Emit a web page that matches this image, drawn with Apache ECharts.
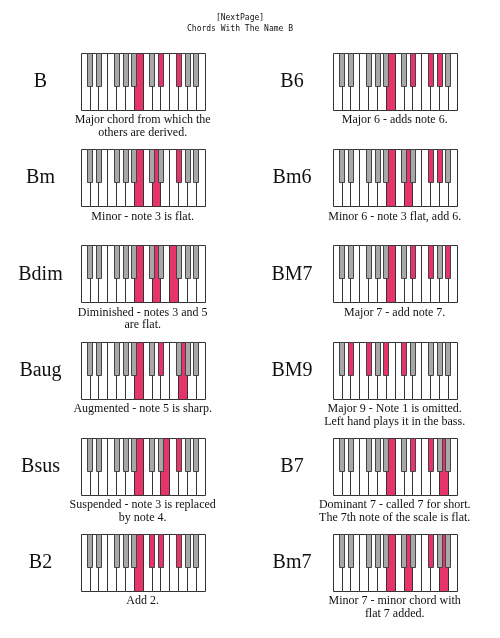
<!DOCTYPE html>
<html><head><meta charset="utf-8">
<script src="https://cdn.jsdelivr.net/npm/echarts@6/dist/echarts.min.js"></script>
<style>html,body{margin:0;padding:0;background:#fff}#c{width:500px;height:638px}</style>
</head><body><div id="c"></div>
<script>
// ---- data ----
const titleLines = ['[NextPage]', 'Chords With The Name B'];
const whiteSemis = [0, 2, 4, 5, 7, 9, 11, 12, 14, 16, 17, 19, 21, 23];
const blackSemis = [1, 3, 6, 8, 10, 13, 15, 18, 20, 22];
const leftNames = ['B', 'Bm', 'Bdim', 'Baug', 'Bsus', 'B2'];
const leftNotes = [[11, 15, 18], [11, 14, 18], [11, 14, 17], [11, 15, 19], [11, 16, 18], [11, 13, 15, 18]];
const leftCaptions = [
  'Major chord from which the\nothers are derived.',
  'Minor - note 3 is flat.',
  'Diminished - notes 3 and 5\nare flat.',
  'Augmented - note 5 is sharp.',
  'Suspended - note 3 is replaced\nby note 4.',
  'Add 2.'
];
const rightNames = ['B6', 'Bm6', 'BM7', 'BM9', 'B7', 'Bm7'];
const rightNotes = [[11, 15, 18, 20], [11, 14, 18, 20], [11, 15, 18, 22], [3, 6, 10, 13], [11, 15, 18, 21], [11, 14, 18, 21]];
const rightCaptions = [
  'Major 6 - adds note 6.',
  'Minor 6 - note 3 flat, add 6.',
  'Major 7 - add note 7.',
  'Major 9 - Note 1 is omitted.\nLeft hand plays it in the bass.',
  'Dominant 7 - called 7 for short.\nThe 7th note of the scale is flat.',
  'Minor 7 - minor chord with\nflat 7 added.'
];

// ---- build ----
const RED = '#e6336a', GRAY = '#a8a8a8';
const KB_W = 124, KB_H = 57, ROW0 = 53, ROW_STEP = 96.2;
const cols = [
  {kbX: 80.7, nameX: 40.5, names: leftNames, notes: leftNotes, caps: leftCaptions},
  {kbX: 332.7, nameX: 292, names: rightNames, notes: rightNotes, caps: rightCaptions}
];
const grids = [], xAxes = [], yAxes = [], series = [], graphics = [];
titleLines.forEach((t, i) => graphics.push({
  type: 'text', x: 240, y: 18 + i * 11, silent: true,
  style: {text: t, fill: '#111', font: '8px "DejaVu Sans Mono"', align: 'center', verticalAlign: 'middle'}
}));
function whiteIndexOf(s) { return whiteSemis.indexOf(s); }
let g = 0;
cols.forEach(col => {
  col.names.forEach((name, r) => {
    const top = ROW0 + r * ROW_STEP;
    grids.push({left: col.kbX, top: top, width: KB_W, height: KB_H});
    xAxes.push({type: 'value', gridIndex: g, min: 0, max: 14, show: false});
    yAxes.push({type: 'value', gridIndex: g, min: 0, max: 1, show: false});
    const notes = col.notes[r];
    series.push({
      type: 'custom', xAxisIndex: g, yAxisIndex: g, silent: true, clip: false,
      data: whiteSemis.map((s, i) => [i, s, notes.includes(s) ? 1 : 0]),
      renderItem: (p, api) => {
        const i = api.value(0);
        const a = api.coord([i, 1]), b = api.coord([i + 1, 0]);
        return {type: 'rect', shape: {x: Math.round(a[0]) + 0.5, y: Math.round(a[1]) + 0.5, width: Math.round(b[0]) - Math.round(a[0]), height: Math.round(b[1]) - Math.round(a[1])},
          style: {fill: api.value(2) ? RED : '#fff', stroke: '#333', lineWidth: 1}};
      }
    });
    series.push({
      type: 'custom', xAxisIndex: g, yAxisIndex: g, silent: true, clip: false,
      data: blackSemis.map(s => [whiteIndexOf(s - 1) + 1, s, notes.includes(s) ? 1 : 0]),
      renderItem: (p, api) => {
        const c = api.value(0);
        const a = api.coord([c - 0.28, 1]), b = api.coord([c + 0.28, 0.42]);
        return {type: 'rect', shape: {x: Math.round(a[0]) + 0.5, y: Math.round(a[1]) + 0.5, width: Math.round(b[0] - a[0]), height: Math.round(b[1] - a[1])},
          style: {fill: api.value(2) ? RED : GRAY, stroke: '#444', lineWidth: 1}};
      }
    });
    graphics.push({
      type: 'text', x: col.nameX, y: top + KB_H / 2 + 0.5, silent: true,
      style: {text: name, fill: '#111', font: '20px "Liberation Serif"', align: 'center', verticalAlign: 'middle'}
    });
    graphics.push({
      type: 'text', x: col.kbX + KB_W / 2, y: top + KB_H + 4, silent: true,
      style: {text: col.caps[r], fill: '#111', font: '12px "Liberation Serif"', lineHeight: 12.5, align: 'center', verticalAlign: 'top'}
    });
    g++;
  });
});
const chart = echarts.init(document.getElementById('c'), null, {renderer: 'canvas'});
chart.setOption({animation: false, backgroundColor: '#fff', grid: grids, xAxis: xAxes, yAxis: yAxes, series: series, graphic: graphics});
</script></body></html>
